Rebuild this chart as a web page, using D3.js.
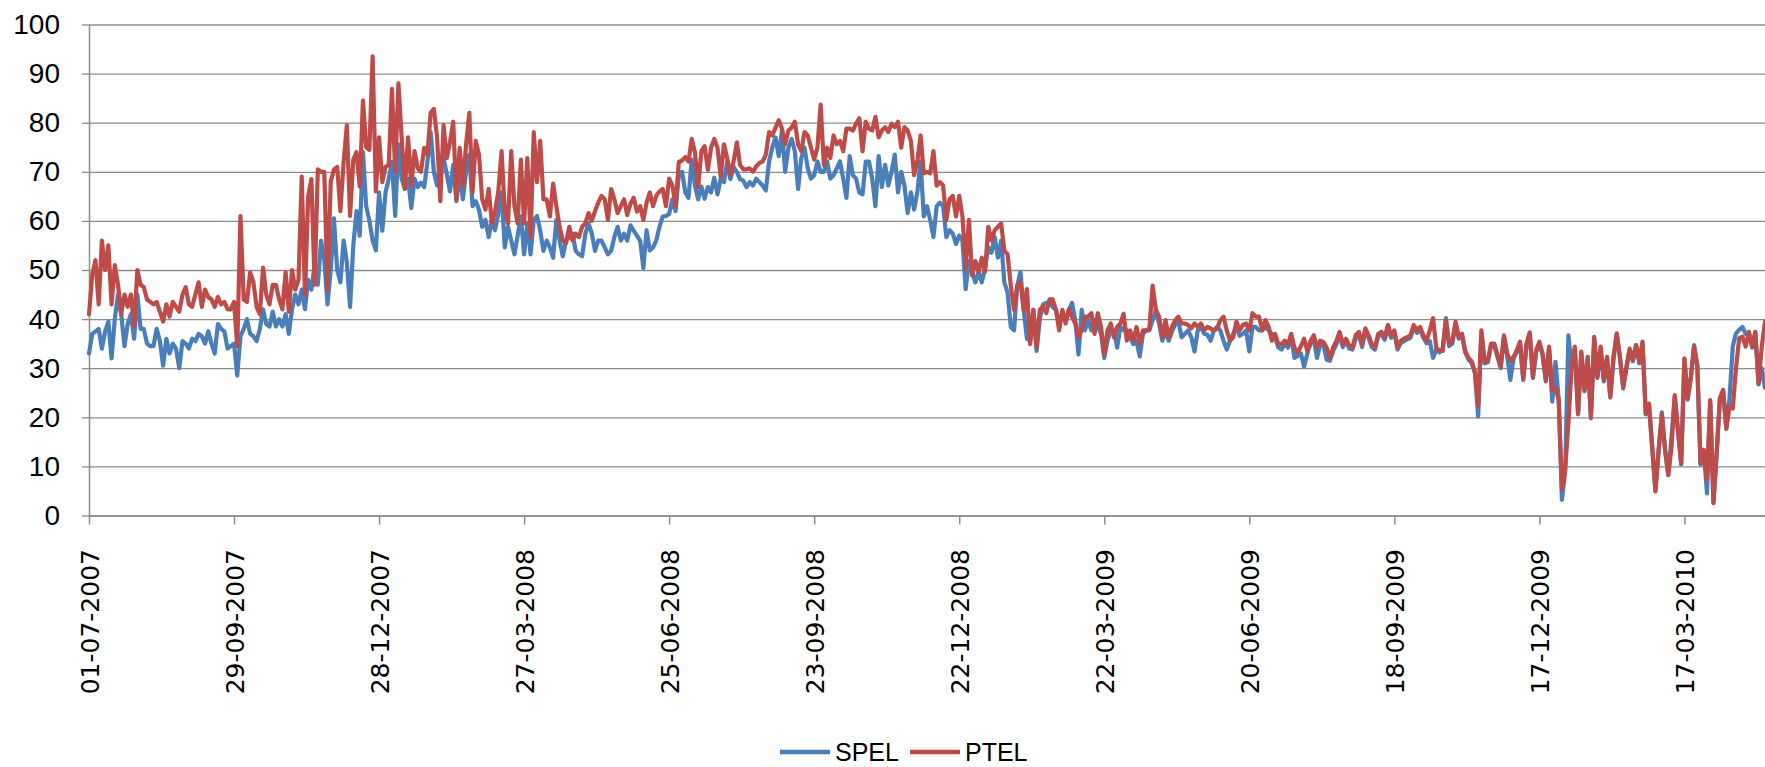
<!DOCTYPE html>
<html>
<head>
<meta charset="utf-8">
<script src="https://cdn.jsdelivr.net/npm/d3@7"></script>
<style>
  body { margin: 0; background: #fff; }
  svg { display: block; }
</style>
</head>
<body>
<script>
// first and last day of the series, one sample every 2 days
const firstDay = "01-07-2007";
const lastDay = "06-05-2010";
const stepDays = 2;

const tickLabels = ["01-07-2007", "29-09-2007", "28-12-2007", "27-03-2008", "25-06-2008", "23-09-2008",
  "22-12-2008", "22-03-2009", "20-06-2009", "18-09-2009", "17-12-2009", "17-03-2010"];
const yTicks = [0, 10, 20, 30, 40, 50, 60, 70, 80, 90, 100];
const seriesNames = ["SPEL", "PTEL"];

const spel = [
  33,37,37.5,38,34,37.5,39.5,32,40,45,
  41,34.5,39,41,36,45,38,38,35,34.5,
  34.5,38,35.5,30.5,36,33,35,34,30,35.5,
  35,34,36,35.5,37,36.5,35,37.5,35,33,
  39,38,37.5,34,34.5,35,28.5,36.5,38,40,
  37,36.5,35.5,38,42,39,38.5,41.5,38.5,40,
  38.5,41,37,42,45,43,46,42,48,46,
  51,47,56,52,43,50,60.5,50,47.5,56,
  51.5,42.5,55,62,57,74,63,60,56,54,
  65.8,58,65.8,68.6,72,61,75.6,68.6,66.5,68.6,
  62.6,68.6,66.9,67.8,66.9,72,78.1,70,67.2,71.4,
  72.8,69.6,66,71.4,64,69.7,64.4,70,73.5,63,
  64,62.3,58.8,60.2,56.7,60.2,58.1,61.6,65.8,54.6,
  58.8,56,53.2,57,60.9,53.2,59.5,53.2,60.2,61,
  58,53.9,56,54.6,52.5,60.2,56,52.8,56,56.7,
  57.4,53.9,53.2,52.8,57.4,59.5,57.4,53.9,56,56,
  54.6,53.2,53.9,56.7,58.8,56,57.4,56,59.1,58,
  57,56,50.4,58.1,54,54.6,56,58.8,60.9,61,
  61.4,64.4,62,69.5,70,65.8,64.7,72.5,67.2,64.4,
  67,64.5,66.9,65.8,68.8,65.4,68.6,67.9,72,68.5,
  71,70,68.5,68.2,66.9,67.9,67.2,68.6,67.9,67.2,
  66.2,72.1,74.9,77,73.2,78.4,70,74.9,76.7,74.2,
  66.5,72.8,74.9,70.7,68.6,69.3,72.1,70,70,72.1,
  68.6,69.3,70.7,72.1,68.6,64.7,73.2,69.3,68.6,65.8,
  65.4,72.1,72.1,68.6,63,73.2,66.9,71.4,67.2,70,
  73.5,65.8,70,67.2,61.6,65.8,62.3,65.8,72.1,60.9,
  63,60.2,56.7,63,63.7,63,56.7,58.1,57.4,55.3,
  57,56,46.1,51.8,49.6,47.5,49.6,47.5,50.4,54.6,
  53.5,56.7,52.5,56,47.5,45.4,38.4,37.7,46.8,49.6,
  41.9,36,35.6,41.9,33.5,40,43,43.3,43.3,42.5,
  41.9,39.1,41.2,39.8,41.9,43.3,39.8,32.8,41.9,37.7,
  39.8,37.7,39.8,38.4,37,32.1,35.6,37.7,37.7,34.2,
  38.4,37.7,37.7,36.3,34.9,35.6,32.4,37,37.7,37.7,
  39.8,41.9,39.1,35.6,37.5,35.6,37.5,38.9,39.5,36.3,
  37,37.7,36.3,33.4,37.7,38.4,37,36.8,35.6,37.7,
  38.4,37.7,35.6,33.8,35.6,37,38.4,36.6,37,37.7,
  33.4,38.4,38.4,37.7,37.7,38.4,37.7,37,36.3,34.2,
  33.8,35,34.2,36.5,32.1,32.5,33,30.3,33,35,
  36,32.1,34.8,34.8,31.7,31.5,33.5,34.8,36.8,34.3,
  35.5,34,33.8,36,36.8,34.3,37.7,36.2,34.3,33.8,
  36.5,36.9,35.8,38.1,36.2,37.1,33.8,35.1,35.5,35.9,
  36.2,38.3,37.2,37.9,36.2,35.1,35.5,32.1,33.8,33.2,
  34,40.2,34.5,35,39.1,36,36.6,33.2,31.8,31,
  29,20.2,37.2,31,31.2,34.6,34.6,32.3,30,36.3,
  32.6,27.6,32,33.3,35,27.6,34.6,37,28,33.3,
  35,32.6,27.3,34,23.2,31.3,23.5,3.2,9,36.7,
  30,34,20.6,33,25.3,32,19.8,36,28,34,
  27.3,32,24,32,36.8,32,25.9,30,33.7,31.4,
  34.7,31,35,20.6,22.5,13.8,5,13.2,21,13.2,
  8.2,16,24.2,17.2,10.4,31.8,23.6,28,34.7,30.3,
  10.4,13.2,4.5,23.3,2.7,12.5,23.6,25.3,17.6,24,
  34.4,37.1,37.8,38.4,37,37.2,34.2,37.2,26.7,30,26
];

const ptel = [
  41,49,52,43,56,50,55,43,51,47,
  41,45,42.5,45,38.5,50,47,46.5,44,43.5,
  43,43.5,41.5,39.5,43,40.5,43.5,42.5,41.5,45,
  46.5,43,42.5,45,47.5,42.5,46,44.5,44,42.5,
  44.5,43,43.5,42,42,43.5,34.5,61,44,43.5,
  49.5,47.5,42.5,41,50.5,45,43,47,47,44,
  42,49.5,41.5,50,46,48,69,45,65,68.5,
  47,70.5,70,70,46,68,70.5,71,62,72,
  79.5,61,72.5,74,67,84.5,75,74.5,93.5,66,
  77,67.9,71,71.4,86.9,70,88,77,66.5,77,
  67.2,74.2,70.7,70,74.9,73.5,82,82.8,77,64,
  79.5,72.8,76,80.2,64.4,74.9,67.2,75.6,82,65.8,
  76.3,73.5,64.4,62.3,66.5,59.5,62,66,74.2,62,
  59.5,74.2,63,59.5,72.5,59.5,72.8,56.7,78.1,67.9,
  76.3,64.4,64.4,60.9,67.6,63,58.8,56,55.5,58.8,
  56,57.4,56.7,58.8,59.5,61.6,60,62,63.7,65.1,
  64.4,60.2,66.5,64.4,61.6,63,64.4,61.2,63.5,64.7,
  61.9,63,60.2,63.7,65.8,63,65.1,66,66.5,63,
  68.6,67.2,63,72,72.3,73,72.1,76.7,74,66.9,
  74.2,75.2,70.4,74.9,76.7,74.9,69,75.6,72.8,69.3,
  72.1,76,71.4,70.5,70.5,70.7,70,71.1,71.8,72.1,
  73.5,78.1,77.4,79,80.5,78.8,75.6,78.4,79,80.2,
  75.6,74.2,78.1,77.4,74.9,72.5,74.9,83.7,71.4,74.9,
  72.8,77.4,75.6,76.3,74.2,78.8,78.8,78.4,79.8,80.9,
  74.2,80.2,78.8,78.4,81.2,77,78.4,79.1,78.1,79.8,
  79.1,80.2,74.9,79.1,78.4,76.3,69.3,72.1,77.4,69.7,
  70,69.7,74.2,67.2,67.9,67.2,60.2,64.4,65.1,60.9,
  65.1,60.9,50.4,60.2,48.9,51.8,49.6,52.5,49.6,58.8,
  56,58.1,58.8,59.5,53.9,53.2,46.8,41.9,46.8,47.5,
  41.9,46.1,34.9,41.9,34.2,41.9,42.6,41.2,44,44,
  41.9,37.7,41.9,39.1,41.9,40.5,39.1,36.3,37.7,40.5,
  40.5,41.2,37,41.2,38.4,32.8,37.7,39.1,36.3,38.4,
  39.1,41.1,35.6,37.7,35.6,38.4,34.9,37.7,37.7,38.1,
  46.8,41.9,40.5,36.3,39.8,36.3,38.4,39.8,40.5,39.1,
  39.1,38.8,38.1,39.1,38.4,39.1,37.7,38.4,38.1,37.7,
  38.1,39.8,40.5,37.7,35.6,36.3,39.5,37.7,38.8,39.1,
  37.7,41.2,40.5,40.5,37.7,39.8,38.4,35.6,37,34.9,
  34.9,35.6,34.9,37,34.2,33.1,34.5,36,33.5,35.6,
  36.7,34.2,35.6,35.3,34.2,32.1,34.2,35.5,37.4,34.9,
  36,34.6,34.2,36.7,37.4,34.9,38.1,36.7,34.9,34.2,
  37,37.4,36.3,38.8,36.7,37.7,34.2,35.6,36,36.3,
  36.7,38.8,37.7,38.4,36.7,35.6,37.7,40.2,34.2,33.5,
  33.5,39.8,34.9,35.6,39.5,36.3,37,33.5,32.1,31.4,
  29.3,22.3,37.7,31.3,31.5,35,35,32.7,30.3,36.7,
  33,31.5,32.3,33.7,35.4,27.9,35,37.3,28.3,33.7,
  35.4,33,27.6,34.4,25.6,26,23.5,5.2,9.3,18.8,
  30.3,34.4,20.8,33.4,25.6,32.3,20.1,36.4,28.3,34.4,
  27.6,32.3,24.2,32.3,37.1,32.3,26.2,30.3,34,31.7,
  34.7,31.3,35.4,20.8,22.8,14,4.9,13.4,20.5,13.4,
  8.3,14,24.5,17.4,10.6,32,23.9,28.3,34.4,30.6,
  10.6,13.4,7.3,23.5,2.5,12.7,23.9,25.6,17.8,22.2,
  21.8,30,36.1,36.4,34.4,37.4,34.4,37.4,26.9,34.4,39.5
];

const colors = ["#4a7ebb", "#be4b48"];

// dimensions
const width = 1765, height = 767;
const plotLeft = 89, plotRight = 1765, plotTop = 24.5, plotBottom = 515.5;

const parseDay = d3.timeParse("%d-%m-%Y");
const startDate = parseDay(firstDay);
const endDate = parseDay(lastDay);
const dates = d3.timeDay.range(startDate, d3.timeDay.offset(endDate, 1), stepDays);

const x = d3.scaleTime().domain([startDate, endDate]).range([plotLeft, plotRight]);
const y = d3.scaleLinear().domain([0, 100]).range([plotBottom, plotTop]);

const svg = d3.select("body").append("svg")
    .attr("width", width)
    .attr("height", height);

// horizontal gridlines
svg.append("g")
    .attr("transform", "translate(" + plotLeft + ",0)")
    .call(d3.axisLeft(y).tickValues(yTicks).tickSize(-(plotRight - plotLeft)).tickFormat(""))
    .call(g => g.select(".domain").remove())
    .call(g => g.selectAll("line").attr("stroke", "#8c8c8c").attr("stroke-width", 1.3));

// y axis
svg.append("g")
    .attr("transform", "translate(" + plotLeft + ",0)")
    .call(d3.axisLeft(y).tickValues(yTicks).tickSize(7).tickSizeOuter(0).tickPadding(22))
    .call(g => g.select(".domain").attr("stroke", "#8c8c8c").attr("stroke-width", 1.5))
    .call(g => g.selectAll("line").attr("stroke", "#8c8c8c").attr("stroke-width", 1.3))
    .call(g => g.selectAll("text")
        .attr("font-family", "'Liberation Sans', Arial, sans-serif")
        .attr("font-size", 28)
        .attr("fill", "#000"));

// x axis
svg.append("g")
    .attr("transform", "translate(0," + plotBottom + ")")
    .call(d3.axisBottom(x).tickValues(tickLabels.map(parseDay))
        .tickFormat(d3.timeFormat("%d-%m-%Y")).tickSize(9).tickSizeOuter(0))
    .call(g => g.select(".domain").attr("stroke", "#8c8c8c").attr("stroke-width", 1.5))
    .call(g => g.selectAll("line").attr("stroke", "#8c8c8c").attr("stroke-width", 1.5))
    .call(g => g.selectAll("text")
        .attr("font-family", "'DejaVu Sans', Verdana, sans-serif")
        .attr("font-size", 25)
        .attr("fill", "#000")
        .attr("text-anchor", "end")
        .attr("transform", "rotate(-90)")
        .attr("x", -33.5)
        .attr("y", 0)
        .attr("dy", "0.36em"));

// the two series, SPEL drawn first
const line = d3.line()
    .x((d, i) => x(dates[i]))
    .y(d => y(d));

[spel, ptel].forEach((values, s) => {
  svg.append("path")
      .datum(values.slice(0, dates.length))
      .attr("fill", "none")
      .attr("stroke", colors[s])
      .attr("stroke-width", 4.2)
      .attr("stroke-linejoin", "round")
      .attr("stroke-linecap", "round")
      .attr("d", line);
});

// legend
const legend = svg.append("g").attr("transform", "translate(780,752)");
const legendX = [0, 130];
seriesNames.forEach((name, i) => {
  const item = legend.append("g").attr("transform", "translate(" + legendX[i] + ",0)");
  item.append("line")
      .attr("x1", 0).attr("x2", 50)
      .attr("stroke", colors[i])
      .attr("stroke-width", 4.5);
  item.append("text")
      .attr("x", 55)
      .attr("dy", "0.35em")
      .attr("font-family", "'Liberation Sans', Arial, sans-serif")
      .attr("font-size", 25)
      .attr("fill", "#000")
      .text(name);
});
</script>
</body>
</html>
